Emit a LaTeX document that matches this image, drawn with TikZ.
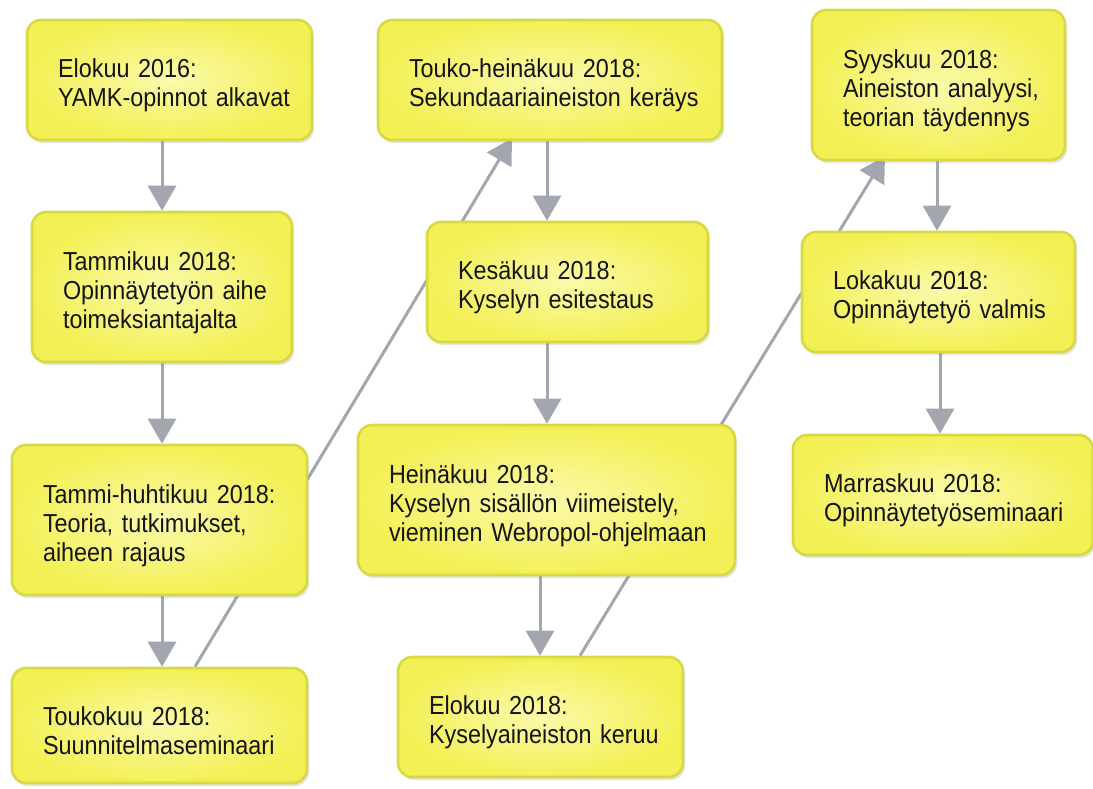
\documentclass[tikz,border=0pt]{standalone}
\usepackage{fontspec}
\setmainfont[FakeStretch=0.9]{Liberation Sans}
\usetikzlibrary{arrows.meta,shadows,backgrounds,calc}
\definecolor{boxline}{HTML}{D6D944}
\definecolor{boxin}{HTML}{FBFAAA}
\definecolor{boxout}{HTML}{F3F055}
\definecolor{arrgray}{HTML}{A3A6AE}
\definecolor{txt}{HTML}{141414}
\tikzset{
  box/.style={draw=boxline, line width=2.6pt, rounded corners=14pt,
    inner color=boxin, outer color=boxout,
    drop shadow={opacity=0.22, shadow xshift=2pt, shadow yshift=-3pt},
    inner xsep=31pt, inner ysep=0pt, align=left, text=txt,
    font=\fontsize{26}{29}\selectfont,
    execute at begin node={\rule{0pt}{30pt}}},
  arr/.style={draw=arrgray, line width=3pt, -{Triangle[width=28pt,length=25pt]}},
}
\begin{document}
\begin{tikzpicture}[x=1pt,y=-1pt]
\useasboundingbox (0,0) rectangle (1093,788);
\node[box, text width=223pt, minimum height=120pt] (b1) at (169.5,80) {\mbox{Elokuu 2016:}\\\mbox{YAMK-opinnot alkavat}};
\node[box, text width=198pt, minimum height=150pt] (b2) at (162,287) {\mbox{Tammikuu 2018:}\\\mbox{Opinnäytetyön aihe}\\\mbox{toimeksiantajalta}};
\node[box, text width=233pt, minimum height=150pt] (b3) at (159.5,520) {\mbox{Tammi-huhtikuu 2018:}\\\mbox{Teoria, tutkimukset,}\\\mbox{aiheen rajaus}};
\node[box, text width=233pt, minimum height=115pt] (b4) at (159.5,725.5) {\mbox{Toukokuu 2018:}\\\mbox{Suunnitelmaseminaari}};
\node[box, text width=282pt, minimum height=120pt] (b5) at (550,80) {\mbox{Touko-heinäkuu 2018:}\\\mbox{Sekundaariaineiston keräys}};
\node[box, text width=219pt, minimum height=120pt] (b6) at (567.5,282) {\mbox{Kesäkuu 2018:}\\\mbox{Kyselyn esitestaus}};
\node[box, text width=315pt, minimum height=150pt] (b7) at (546.5,500) {\mbox{Heinäkuu 2018:}\\\mbox{Kyselyn sisällön viimeistely,}\\\mbox{vieminen Webropol-ohjelmaan}};
\node[box, text width=223pt, minimum height=120pt] (b8) at (540.5,717) {\mbox{Elokuu 2018:}\\\mbox{Kyselyaineiston keruu}};
\node[box, text width=191pt, minimum height=150pt] (b9) at (938.5,85) {\mbox{Syyskuu 2018:}\\\mbox{Aineiston analyysi,}\\\mbox{teorian täydennys}};
\node[box, text width=211pt, minimum height=120pt] (b10) at (938.5,292) {\mbox{Lokakuu 2018:}\\\mbox{Opinnäytetyö valmis}};
\node[box, text width=238pt, minimum height=120pt] (b11) at (943,495) {\mbox{Marraskuu 2018:}\\\mbox{Opinnäytetyöseminaari}};
\coordinate (xa) at (162,0);
\coordinate (xb) at (547,0);
\coordinate (xc) at (540,0);
\coordinate (xd) at (937,0);
\coordinate (xe) at (940,0);
\begin{scope}[on background layer]
\draw[arr] (b1.south -| xa) -- (b2.north -| xa);
\draw[arr] (b2.south -| xa) -- (b3.north -| xa);
\draw[arr] (b3.south -| xa) -- (b4.north -| xa);
\draw[arr] ([xshift=35.5pt]b4.north) -- ([xshift=-38pt,yshift=3pt]b5.south);
\draw[arr] (b5.south -| xb) -- (b6.north -| xb);
\draw[arr] (b6.south -| xb) -- (b7.north -| xb);
\draw[arr] (b7.south -| xc) -- (b8.north -| xc);
\draw[arr] ([xshift=39.5pt]b8.north) -- ([xshift=-53.5pt,yshift=5pt]b9.south);
\draw[arr] (b9.south -| xd) -- (b10.north -| xd);
\draw[arr] (b10.south -| xe) -- (b11.north -| xe);
\end{scope}
\end{tikzpicture}
\end{document}
